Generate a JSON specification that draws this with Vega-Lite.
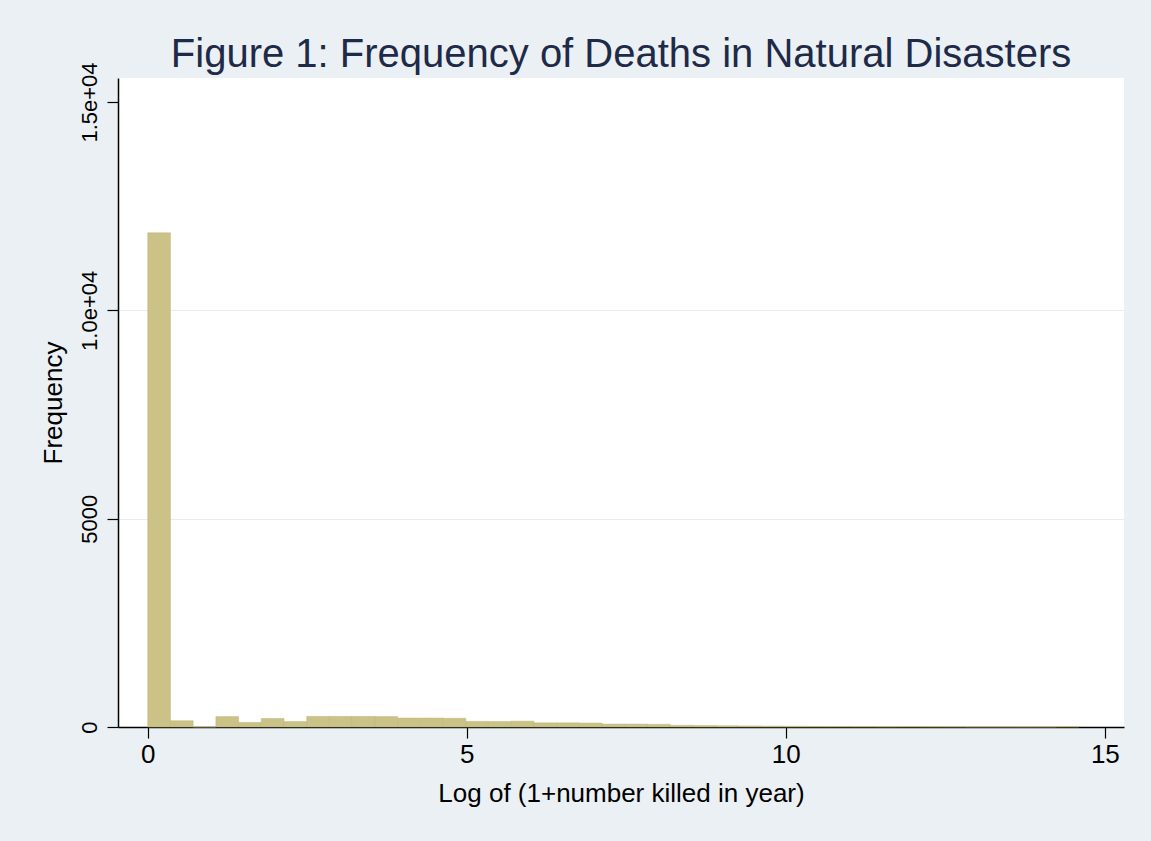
{
  "$schema": "https://vega.github.io/schema/vega-lite/v6.json",
  "width": 1006,
  "height": 649,
  "autosize": {"type": "none"},
  "padding": {"left": 118, "top": 78, "right": 27, "bottom": 114},
  "background": "#EAF0F3",
  "title": {
    "text": "Figure 1: Frequency of Deaths in Natural Disasters",
    "font": "Liberation Sans",
    "fontSize": 40,
    "fontWeight": "normal",
    "color": "#1e2a48",
    "anchor": "middle",
    "frame": "group",
    "offset": 8,
    "dy": 21
  },
  "data": {
    "values": [
      {"x0": 0, "x1": 0.356, "n": 11860},
      {"x0": 0.356, "x1": 0.712, "n": 150},
      {"x0": 0.712, "x1": 1.068, "n": 0},
      {"x0": 1.068, "x1": 1.424, "n": 250},
      {"x0": 1.424, "x1": 1.78, "n": 110},
      {"x0": 1.78, "x1": 2.136, "n": 205},
      {"x0": 2.136, "x1": 2.492, "n": 130},
      {"x0": 2.492, "x1": 2.848, "n": 255},
      {"x0": 2.848, "x1": 3.204, "n": 255},
      {"x0": 3.204, "x1": 3.56, "n": 255},
      {"x0": 3.56, "x1": 3.916, "n": 250},
      {"x0": 3.916, "x1": 4.272, "n": 215},
      {"x0": 4.272, "x1": 4.628, "n": 215},
      {"x0": 4.628, "x1": 4.984, "n": 210},
      {"x0": 4.984, "x1": 5.34, "n": 135},
      {"x0": 5.34, "x1": 5.696, "n": 130},
      {"x0": 5.696, "x1": 6.052, "n": 140},
      {"x0": 6.052, "x1": 6.408, "n": 100},
      {"x0": 6.408, "x1": 6.764, "n": 100},
      {"x0": 6.764, "x1": 7.12, "n": 95},
      {"x0": 7.12, "x1": 7.476, "n": 70},
      {"x0": 7.476, "x1": 7.832, "n": 70},
      {"x0": 7.832, "x1": 8.188, "n": 65},
      {"x0": 8.188, "x1": 8.544, "n": 40},
      {"x0": 8.544, "x1": 8.9, "n": 35},
      {"x0": 8.9, "x1": 9.256, "n": 30},
      {"x0": 9.256, "x1": 9.612, "n": 25},
      {"x0": 9.612, "x1": 9.968, "n": 20},
      {"x0": 9.968, "x1": 10.324, "n": 18},
      {"x0": 10.324, "x1": 10.68, "n": 15},
      {"x0": 10.68, "x1": 11.036, "n": 12},
      {"x0": 11.036, "x1": 11.392, "n": 10},
      {"x0": 11.392, "x1": 11.748, "n": 8},
      {"x0": 11.748, "x1": 12.104, "n": 10},
      {"x0": 12.104, "x1": 12.46, "n": 8},
      {"x0": 12.46, "x1": 12.816, "n": 6},
      {"x0": 12.816, "x1": 13.172, "n": 2},
      {"x0": 13.172, "x1": 13.528, "n": 2},
      {"x0": 13.528, "x1": 13.884, "n": 1},
      {"x0": 13.884, "x1": 14.24, "n": 2},
      {"x0": 14.24, "x1": 14.596, "n": 10}
    ]
  },
  "mark": {"type": "rect", "color": "#CAC286", "stroke": "#BFB676", "strokeWidth": 0.5},
  "encoding": {
    "x": {
      "field": "x0",
      "type": "quantitative",
      "scale": {"domain": [-0.466, 15.3], "nice": false, "zero": false},
      "axis": {
        "title": "Log of (1+number killed in year)",
        "values": [0, 5, 10, 15],
        "grid": false,
        "domainColor": "black",
        "domainWidth": 1.5,
        "tickColor": "black",
        "tickWidth": 1.2,
        "tickSize": 11,
        "labelPadding": 3,
        "labelFontSize": 26,
        "titleFontSize": 26,
        "titlePadding": 13
      }
    },
    "x2": {"field": "x1"},
    "y": {
      "field": "n",
      "type": "quantitative",
      "title": "Frequency",
      "scale": {"domain": [0, 15576], "nice": false},
      "axis": {
        "values": [0, 5000, 10000, 15000],
        "labelExpr": "datum.value >= 10000 ? format(datum.value / 10000, '.1f') + 'e+04' : datum.value",
        "labelAngle": -90,
        "labelAlign": "center",
        "labelBaseline": "bottom",
        "grid": true,
        "gridColor": "#E6EEF1",
        "gridWidth": 1.2,
        "gridOpacity": {"condition": {"test": "datum.value == 0 || datum.value == 15000", "value": 0}, "value": 1},
        "domainColor": "black",
        "domainWidth": 1.5,
        "tickColor": "black",
        "tickWidth": 1.2,
        "tickSize": 11,
        "labelPadding": 6,
        "labelFontSize": 22,
        "titleFontSize": 26,
        "titlePadding": 12
      }
    },
    "y2": {"datum": 0}
  },
  "config": {
    "font": "Liberation Sans",
    "view": {"fill": "white", "stroke": null},
    "axis": {
      "labelColor": "black",
      "titleColor": "black",
      "titleFontWeight": "normal",
      "labelFont": "Liberation Sans",
      "titleFont": "Liberation Sans"
    }
  }
}
